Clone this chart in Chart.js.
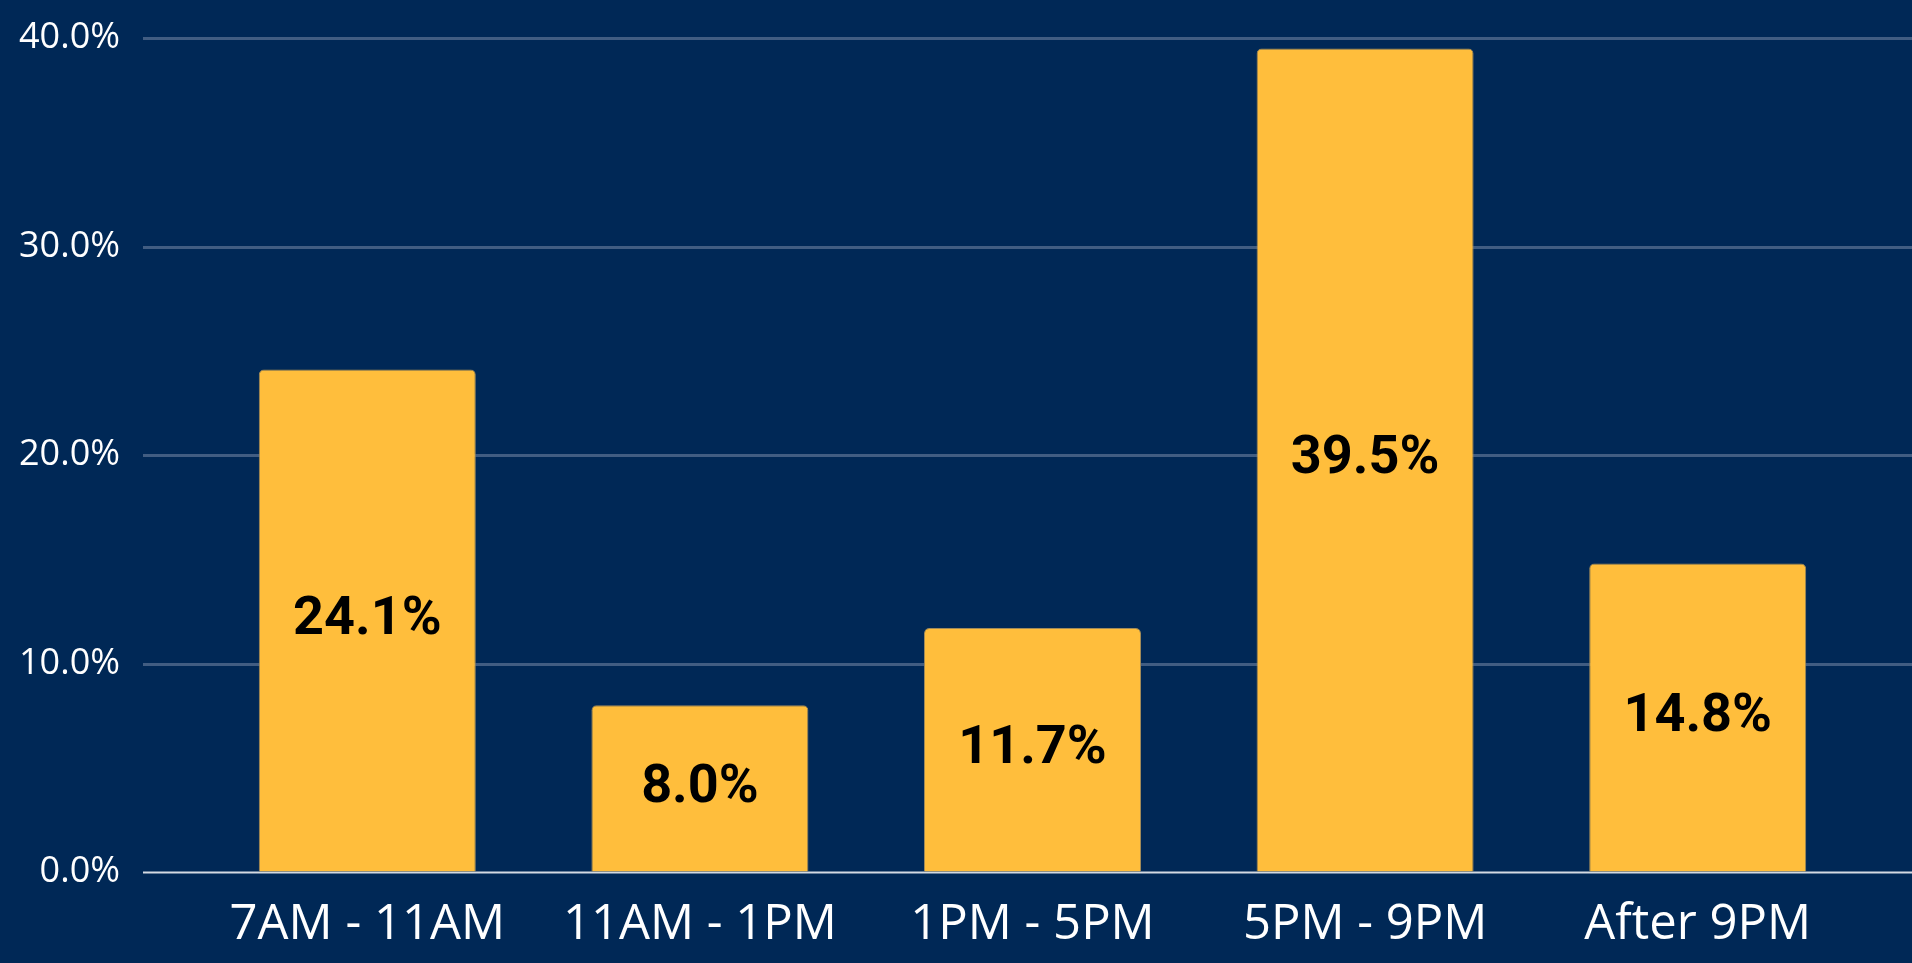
<!DOCTYPE html>
<html>
<head>
<meta charset="utf-8">
<title>Share by time of day</title>
<script src="https://cdn.jsdelivr.net/npm/chart.js@4/dist/chart.umd.min.js"></script>
<style>
  html, body { margin: 0; padding: 0; background: #002856; overflow: hidden; }
  canvas { display: block; }
</style>
</head>
<body>
<canvas id="chart" width="1912" height="963"></canvas>
<script>
const categories = ['7AM - 11AM', '11AM - 1PM', '1PM - 5PM', '5PM - 9PM', 'After 9PM'];
const shares = [24.1, 8.0, 11.7, 39.5, 14.8];
const yTicks = [0, 10, 20, 30, 40];

const NAVY = '#002856';
const GOLD = '#ffbe3c';
const GRID = '#415d82';
const AXIS = '#d4dae2';

// horizontal grid lines run past the plot area, out to the right edge
const wideGrid = {
  id: 'wideGrid',
  beforeDatasetsDraw(chart, args, opts) {
    const { ctx, scales: { y }, width } = chart;
    ctx.save();
    y.ticks.forEach((t) => {
      const py = Math.round(y.getPixelForValue(t.value)) + 0.5;
      const isZero = t.value === 0;
      ctx.beginPath();
      ctx.strokeStyle = isZero ? AXIS : GRID;
      ctx.lineWidth = isZero ? 2 : 3;
      ctx.moveTo(opts.left, py);
      ctx.lineTo(width, py);
      ctx.stroke();
    });
    ctx.restore();
  },
};

// value written in the middle of each bar
const barValues = {
  id: 'barValues',
  afterDatasetsDraw(chart) {
    const { ctx } = chart;
    const meta = chart.getDatasetMeta(0);
    ctx.save();
    ctx.font = 'bold 54px Roboto';
    ctx.fillStyle = '#000';
    ctx.textAlign = 'center';
    ctx.textBaseline = 'middle';
    meta.data.forEach((bar, i) => {
      const v = chart.data.datasets[0].data[i];
      ctx.fillText(v.toFixed(1) + '%', bar.x, (bar.y + bar.base) / 2);
    });
    ctx.restore();
  },
};

new Chart(document.getElementById('chart'), {
  type: 'bar',
  data: {
    labels: categories,
    datasets: [{
      data: shares,
      backgroundColor: GOLD,
      borderColor: '#a08a5a',
      borderWidth: 1,
      borderSkipped: 'bottom',
      borderRadius: 5,
      categoryPercentage: 1,
      barPercentage: 0.6525,
    }],
  },
  options: {
    responsive: false,
    animation: false,
    layout: { padding: { top: 38, right: 48, left: 0, bottom: 0 } },
    plugins: {
      legend: { display: false },
      tooltip: { enabled: false },
      wideGrid: { left: 143 },
    },
    scales: {
      x: {
        afterFit(scale) { scale.height = 91; },
        grid: { display: false, drawTicks: false },
        border: { display: false },
        ticks: {
          color: '#fff',
          font: { family: 'Open Sans', size: 49 },
          padding: 24,
          maxRotation: 0,
          autoSkip: false,
        },
      },
      y: {
        min: 0,
        max: 40,
        afterFit(scale) { scale.width = 201; },
        afterBuildTicks(scale) { scale.ticks = yTicks.map((v) => ({ value: v })); },
        // invisible tick marks only push the labels away from the plot
        grid: { drawOnChartArea: false, drawTicks: true, tickLength: 70, color: 'transparent' },
        border: { display: false },
        ticks: {
          color: '#fff',
          font: { family: 'Open Sans', size: 36 },
          padding: 11,
          callback: (v) => v.toFixed(1) + '%',
        },
      },
    },
  },
  plugins: [wideGrid, barValues],
});
</script>
</body>
</html>
